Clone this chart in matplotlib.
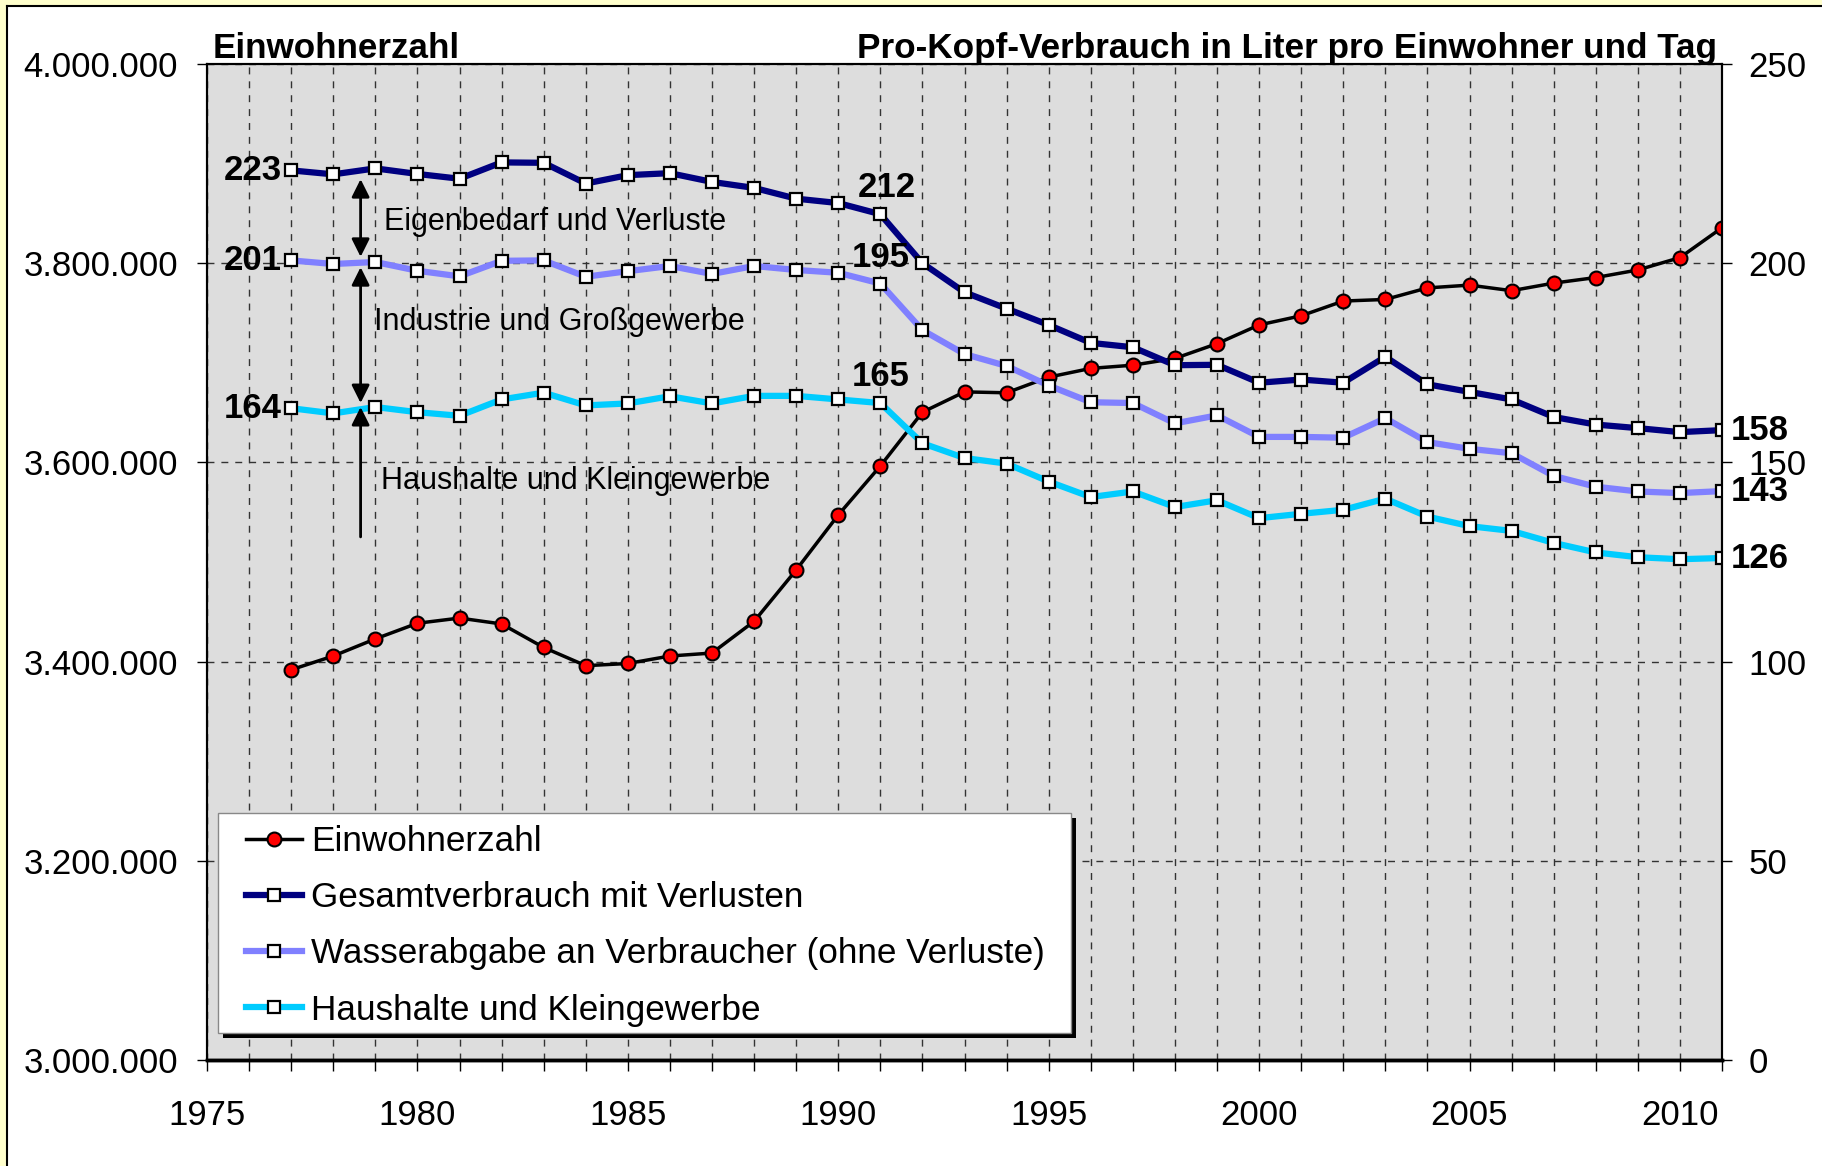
import numpy as np
import matplotlib
matplotlib.use('Agg')
import matplotlib.pyplot as plt
from matplotlib.patches import Rectangle
from matplotlib.lines import Line2D
from matplotlib.ticker import MultipleLocator, FuncFormatter

plt.rcParams['font.family'] = ['Liberation Sans', 'DejaVu Sans']

# Daten
jahre = list(range(1977, 2012))
einwohner = [3391800, 3405600, 3422800, 3438500, 3443700, 3437800, 3414200, 3395900,
             3398100, 3405600, 3408600, 3440400, 3492000, 3547200, 3596400, 3650400,
             3670800, 3669900, 3685600, 3694400, 3697600, 3704400, 3719200, 3738000,
             3747200, 3762000, 3763600, 3775200, 3778000, 3772400, 3780000, 3785600,
             3793200, 3805600, 3835600]
gesamt = [223.3, 222.3, 223.8, 222.4, 221.2, 225.3, 225.2, 220.0, 222.1, 222.6,
          220.4, 218.9, 216.2, 215.1, 212.3, 200.0, 192.7, 188.6, 184.5, 180.0,
          178.9, 174.4, 174.5, 170.0, 170.8, 170.0, 176.5, 169.6, 167.7, 165.8,
          161.4, 159.5, 158.6, 157.6, 158.1]
wasserabgabe = [200.7, 199.8, 200.3, 198.1, 196.7, 200.6, 200.7, 196.6, 198.0, 199.3,
                197.3, 199.3, 198.3, 197.6, 194.9, 183.2, 177.2, 174.2, 169.3, 165.1,
                164.9, 159.8, 161.8, 156.4, 156.4, 156.2, 161.1, 155.1, 153.4, 152.3,
                146.6, 143.9, 142.7, 142.3, 142.8]
haushalte = [163.6, 162.3, 163.9, 162.6, 161.7, 165.8, 167.5, 164.3, 164.8, 166.6,
             164.8, 166.7, 166.7, 165.8, 164.9, 154.8, 151.1, 149.7, 145.2, 141.3,
             142.7, 138.8, 140.5, 136.0, 137.1, 138.1, 140.9, 136.4, 134.0, 132.8,
             129.8, 127.4, 126.2, 125.7, 126.0]
serien_namen = ['Einwohnerzahl', 'Gesamtverbrauch mit Verlusten',
                'Wasserabgabe an Verbraucher (ohne Verluste)', 'Haushalte und Kleingewerbe']

W, H = 1822, 1166
fig = plt.figure(figsize=(W / 100, H / 100), dpi=100)
fig.patch.set_facecolor('white')

# gelber Rand oben und links
fig.patches.append(Rectangle((0, 1 - 5 / H), 1, 5 / H, transform=fig.transFigure, color='#FFFFCC', zorder=0))
fig.patches.append(Rectangle((0, 0), 6 / W, 1, transform=fig.transFigure, color='#FFFFCC', zorder=0))
fig.lines.append(Line2D([7 / W, 1], [1 - 6 / H, 1 - 6 / H], transform=fig.transFigure, color='black', lw=1.5))
fig.lines.append(Line2D([7 / W, 7 / W], [0, 1 - 6 / H], transform=fig.transFigure, color='black', lw=1.5))

ax1 = fig.add_axes([207 / W, 1 - 1060 / H, 1515 / W, 996 / H])
ax2 = ax1.twinx()
ax1.set_facecolor('#DDDDDD')

l1, = ax1.plot(jahre, einwohner, color='black', lw=2.5, marker='o', ms=10,
               mfc='red', mec='black', mew=1.5, label=serien_namen[0], zorder=3)
sq = dict(marker='s', ms=8.5, mfc='white', mec='black', mew=1.6)
l2, = ax2.plot(jahre, gesamt, color='#000080', lw=4.5, label=serien_namen[1], **sq)
l3, = ax2.plot(jahre, wasserabgabe, color='#8080FF', lw=4.5, label=serien_namen[2], **sq)
l4, = ax2.plot(jahre, haushalte, color='#00CCFF', lw=4.5, label=serien_namen[3], **sq)

ax1.set_xlim(1975, 2011)
ax1.set_ylim(3000000, 4000000)
ax2.set_ylim(0, 250)

ax1.xaxis.set_major_locator(MultipleLocator(5))
ax1.xaxis.set_minor_locator(MultipleLocator(1))
ax1.yaxis.set_major_locator(MultipleLocator(200000))
ax1.yaxis.set_major_formatter(FuncFormatter(lambda v, p: f"{v:,.0f}".replace(',', '.')))
ax2.yaxis.set_major_locator(MultipleLocator(50))

ax1.tick_params(axis='x', which='both', direction='out', length=8, width=1, labelsize=25, pad=20)
ax1.tick_params(axis='y', direction='out', length=7, width=1, labelsize=25, pad=14)
ax2.tick_params(axis='y', direction='out', length=7, width=1, labelsize=25, pad=12)

ax1.grid(axis='x', which='both', ls=(0, (5, 5)), color='#333333', lw=1)
ax1.grid(axis='y', which='major', ls=(0, (5, 5)), color='#333333', lw=1)
ax1.set_axisbelow(True)

for s in ['left', 'right', 'top']:
    ax1.spines[s].set_linewidth(1.5)
    ax2.spines[s].set_linewidth(1.5)
ax1.spines['bottom'].set_linewidth(2.5)
ax2.spines['bottom'].set_linewidth(2.5)

# Ueberschriften der Achsen
ax1.text(0.004, 1.006, 'Einwohnerzahl', transform=ax1.transAxes, fontsize=25.2,
         fontweight='bold', ha='left', va='baseline')
ax1.text(0.9967, 1.006, 'Pro-Kopf-Verbrauch in Liter pro Einwohner und Tag', transform=ax1.transAxes,
         fontsize=25.3, fontweight='bold', ha='right', va='baseline')

# Werte an den Linien
i91 = jahre.index(1991)
for serie, dx in [(gesamt, 5), (wasserabgabe, 0), (haushalte, 0)]:
    ax2.annotate(f"{serie[0]:.0f}", (jahre[0], serie[0]), xytext=(-7, 0), textcoords='offset points',
                 ha='right', va='center', fontsize=25, fontweight='bold')
    ax2.annotate(f"{serie[i91]:.0f}", (jahre[i91], serie[i91]), xytext=(dx, 19), textcoords='offset points',
                 ha='center', va='center', fontsize=25, fontweight='bold')
    ax2.annotate(f"{serie[-1]:.0f}", (jahre[-1], serie[-1]), xytext=(6, 0), textcoords='offset points',
                 ha='left', va='center', fontsize=25, fontweight='bold', annotation_clip=False)

# Pfeile und Beschriftungen
xp = 1978.65
pfeil = dict(color='black', lw=2, mutation_scale=27, shrinkA=0, shrinkB=0)
ax2.annotate('', xy=(xp, 201.6), xytext=(xp, 221.1), arrowprops=dict(arrowstyle='<|-|>', **pfeil))
ax2.annotate('', xy=(xp, 164.9), xytext=(xp, 199.0), arrowprops=dict(arrowstyle='<|-|>', **pfeil))
ax2.annotate('', xy=(xp, 163.9), xytext=(xp, 131.3), arrowprops=dict(arrowstyle='-|>', **pfeil))
ax2.text(1979.21, 210.3, 'Eigenbedarf und Verluste', fontsize=22, ha='left', va='center')
ax2.text(1978.96, 185.2, 'Industrie und Großgewerbe', fontsize=22, ha='left', va='center')
ax2.text(1979.13, 145.3, 'Haushalte und Kleingewerbe', fontsize=22, ha='left', va='center')

# Legende mit Schatten
lx0, ly0, lw_, lh = 11 / 1515, 27 / 996, 853 / 1515, 220 / 996
ax2.add_patch(Rectangle((lx0 + 5 / 1515, ly0 - 5 / 996), lw_, lh, transform=ax2.transAxes,
                        facecolor='black', edgecolor='none', zorder=8, clip_on=False))
ax2.add_patch(Rectangle((lx0, ly0), lw_, lh, transform=ax2.transAxes,
                        facecolor='white', edgecolor='#888888', lw=1, zorder=9, clip_on=False))
leg = ax2.legend([l1, l2, l3, l4], serien_namen, loc='upper left', bbox_to_anchor=(0.0257, 0.236),
                 frameon=False, fontsize=25.3, borderpad=0, borderaxespad=0, handlelength=1.6,
                 handletextpad=0.25, labelspacing=0.66, numpoints=1)
leg.set_zorder(10)

plt.savefig('out.png', dpi=100)
